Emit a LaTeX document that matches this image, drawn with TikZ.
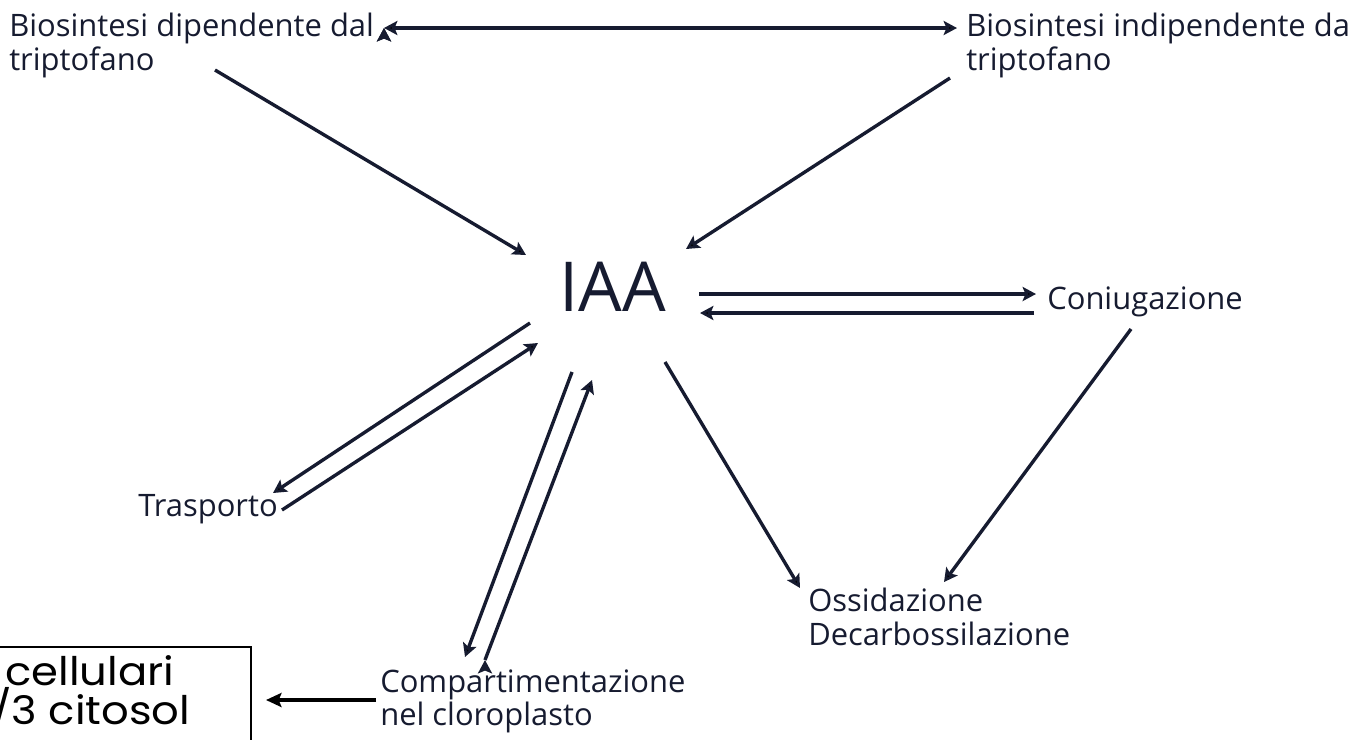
\documentclass[tikz,border=0pt]{standalone}
\usepackage{fontspec}
\setmainfont{Open Sans}
\newfontfamily\poolfont[FakeStretch=1.1]{Poppins}
\usetikzlibrary{arrows.meta,calc}

\definecolor{ink}{RGB}{22,27,48}

\tikzset{
  lbl/.style={inner sep=0pt, text=ink, align=left,
    font=\fontsize{22}{24}\selectfont},
  arr/.style={draw=ink, line width=2.4pt,
    -{Stealth[length=9.5pt,width=10pt,inset=2pt]}},
  biarr/.style={arr, {Stealth[length=9.5pt,width=10pt,inset=2pt]}-{Stealth[length=9.5pt,width=10pt,inset=2pt]}},
  frame/.style={draw=black, line width=1.5pt, inner sep=0pt},
  blkarr/.style={draw=black, line width=2.8pt,
    -{Stealth[length=11pt,width=10pt,inset=2pt]}},
}

\begin{document}
\begin{tikzpicture}[x=0.025cm,y=-0.025cm]
  \useasboundingbox (0,0) rectangle (1367,739);
  \fill[white] (0,0) rectangle (1367,739);
  \clip (0,0) rectangle (1367,739);

  % labels round IAA
  \node[lbl, anchor=north west] (dip) at (9,13) {Biosintesi dipendente dal\\triptofano};
  \node[lbl, anchor=north west] (ind) at (966,13) {Biosintesi indipendente da\\triptofano};
  \node[lbl, anchor=base west, font=\fontsize{49}{52}\selectfont] (iaa) at (559,311) {IAA};
  \node[lbl, anchor=base west] (con) at (1047,309) {Coniugazione};
  \node[lbl, anchor=north west] (oss) at (808,588) {Ossidazione\\Decarbossilazione};
  \node[lbl, anchor=base west] (tra) at (138,516) {Trasporto};
  \node[lbl, anchor=north west] (cmp) at (380,669) {Compartimentazione\\nel cloroplasto};

  % pool box, bottom left
  \node[frame, anchor=north east, minimum width=7cm, minimum height=5cm] (pool) at (252,646) {};
  \node[inner sep=0pt, anchor=north west, align=left, text=black,
    font=\poolfont\fontsize{28}{26}\selectfont] (cell) at (-9,655)
    {\hspace*{10pt}cellulari\\/3 citosol};

  \path[biarr] ($(dip.north west)+(375,15)$) edge ($(ind.north west)+(-9,15)$);
  \path[arr]
    ($(dip.north west)+(206,57)$) edge ($(iaa.base west)+(-33,-56)$)
    ($(ind.north west)+(-16,65)$) edge ($(iaa.base west)+(127,-62)$)
    ($(iaa.base west)+(140,-17)$) edge ($(con.base west)+(-11,-15)$)
    ($(con.base west)+(-13,4)$) edge ($(iaa.base west)+(141,2)$)
    ($(con.base west)+(84,20)$) edge ($(oss.north west)+(136,-6)$)
    ($(iaa.base west)+(106,51)$) edge ($(oss.north west)+(-8,0)$)
    ($(iaa.base west)+(-29,12)$) edge ($(tra.base west)+(135,-23)$)
    ($(tra.base west)+(144,-6)$) edge ($(iaa.base west)+(-21,32)$)
    ($(iaa.base west)+(13,61)$) edge ($(cmp.north west)+(85,-12)$)
    ($(cmp.north west)+(105,-9)$) edge ($(iaa.base west)+(33,69)$);
  \draw[blkarr] ($(cmp.north west)+(-4,31)$) -- ($(pool.north east)+(14,54)$);
\end{tikzpicture}
\end{document}
